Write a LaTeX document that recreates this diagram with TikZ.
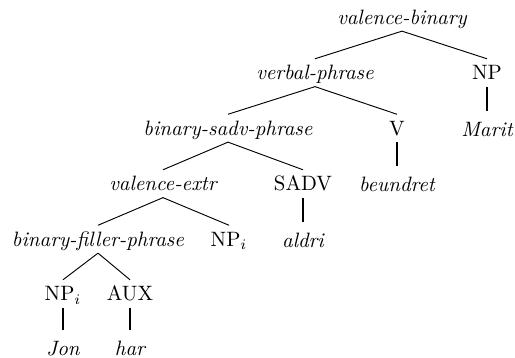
\documentclass[tikz,border=0pt]{standalone}
\begin{document}
\begin{tikzpicture}[x=0.4808pt, y=-0.4808pt,
  lbl/.style={anchor=base, inner xsep=0pt, inner ysep=3pt, text height=7pt, text depth=0pt},
  phr/.style={lbl, font=\itshape},
  word/.style={lbl, font=\itshape, text height=9.2pt},
  branch/.style={line width=0.45pt},
  lexline/.style={line width=1pt}]
\useasboundingbox (0,0) rectangle (515,358);

% phrase nodes
\node[phr] (vb)  at (402,24.5) {valence-binary};
\node[phr] (vp)  at (315,80)   {verbal-phrase};
\node[lbl] (np)  at (487,80)   {NP};
\node[phr] (bsp) at (228,135.5) {binary-sadv-phrase};
\node[lbl] (v)   at (397,135.5) {V};
\node[word] (marit) at (487,137) {Marit};
\node[phr] (ve)  at (163,191)  {valence-extr};
\node[lbl] (sadv) at (303,191) {SADV};
\node[word] (beundret) at (397,192) {beundret};
\node[phr] (bfp) at (98,246.5) {binary-filler-phrase};
\node[lbl] (npi) at (229,246.5) {NP$_i$};
\node[word] (aldri) at (303,247.5) {aldri};
\node[lbl] (npj) at (63,301) {NP$_i$};
\node[lbl] (aux) at (130,301) {AUX};
\node[word] (jon) at (63,355.5) {Jon};
\node[word] (har) at (130,355.5) {har};

% branches
\draw[branch] (vb.south) -- (vp.north);
\draw[branch] (vb.south) -- (np.north);
\draw[branch] (vp.south) -- (bsp.north);
\draw[branch] (vp.south) -- (v.north);
\draw[branch] (bsp.south) -- (ve.north);
\draw[branch] (bsp.south) -- (sadv.north);
\draw[branch] (ve.south) -- (bfp.north);
\draw[branch] (ve.south) -- (npi.north);
\draw[branch] (bfp.south) -- (npj.north);
\draw[branch] (bfp.south) -- (aux.north);

% lexical attachments
\draw[lexline] (np.south) -- (marit.north);
\draw[lexline] (v.south) -- (beundret.north);
\draw[lexline] (sadv.south) -- (aldri.north);
\draw[lexline] (npj.south) -- (jon.north);
\draw[lexline] (aux.south) -- (har.north);
\end{tikzpicture}
\end{document}
